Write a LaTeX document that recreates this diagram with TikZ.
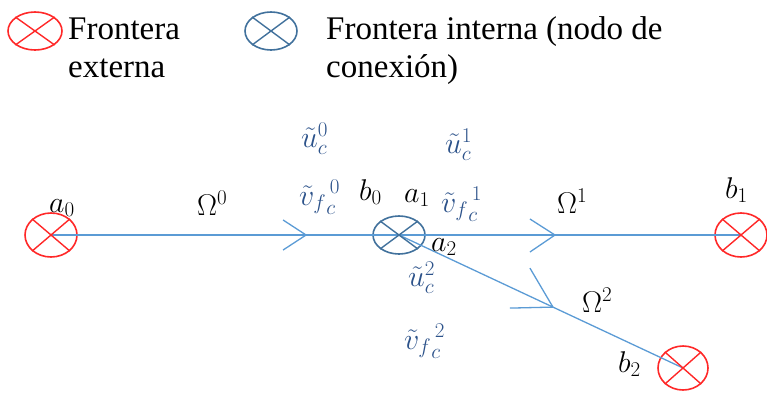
\RequirePackage{fix-cm}
\documentclass[tikz,border=0pt]{standalone}
\usepackage{fontspec}
\setmainfont{Liberation Serif}
\usetikzlibrary{calc,shapes.geometric}
\definecolor{linecol}{RGB}{91,155,213}
\definecolor{nodecol}{RGB}{65,113,156}
\definecolor{extcol}{RGB}{255,40,40}
\definecolor{lblcol}{RGB}{44,82,138}
\tikzset{
  extb/.style={ellipse,draw=extcol,line width=1.6pt,minimum width=52pt,minimum height=44pt,inner sep=0pt},
  intb/.style={ellipse,draw=nodecol,line width=1.6pt,minimum width=52pt,minimum height=38pt,inner sep=0pt},
  legtxt/.style={anchor=base west,inner sep=0pt,font=\fontsize{33}{38}\selectfont},
  mlbl/.style={anchor=base west,inner sep=0pt,font=\fontsize{30}{36}\selectfont},
  blbl/.style={mlbl,text=lblcol},
  seg/.style={draw=linecol,line width=1.3pt},
  chev/.style={draw=linecol,line width=1.3pt,line join=miter}
}
\newcommand{\vfc}[1]{\hbox{$\tilde{v}_f$}_c^{\,#1}}
\begin{document}
\begin{tikzpicture}[x=1pt,y=-1pt]
\useasboundingbox (0,0) rectangle (767,397);
% legend
\node[extb,minimum height=38pt,minimum width=54pt] (legext) at (35,31) {};
\node[intb] (legint) at (271,31) {};
\node[legtxt] (lt1a) at (68,39) {Frontera};
\node[legtxt] (lt1b) at (68,77) {externa};
\node[legtxt] (lt2a) at (326,39) {Frontera interna (nodo de};
\node[legtxt] (lt2b) at (326,77) {conexión)};
% boundary nodes
\node[extb] (a0) at (51,235) {};
\node[intb] (nd) at (399,235) {};
\node[extb] (b1) at (741,235) {};
\node[extb,minimum width=50pt] (b2) at (683,368) {};
% segments
\draw[seg] (a0.center) -- (nd.center) -- (b1.center);
\draw[seg] (nd.center) -- (b2.center);
% crosses
\foreach \n/\c in {legext/extcol,legint/nodecol,a0/extcol,nd/nodecol,b1/extcol,b2/extcol}{
  \draw[\c,line width=1.4pt] (\n.north west) -- (\n.south east) (\n.north east) -- (\n.south west);
}
% chevrons
\coordinate (t0) at ($(a0.center)!0.733!(nd.center)$);
\coordinate (t1) at ($(nd.center)!0.456!(b1.center)$);
\coordinate (t2) at ($(nd.center)!0.542!(b2.center)$);
\draw[chev] ($(t0)+(-23,-15)$) -- (t0) -- ($(t0)+(-23,15)$);
\draw[chev] ($(t1)+(-25,-16)$) -- (t1) -- ($(t1)+(-25,17)$);
\draw[chev] ($(t2)+(-23,-39)$) -- (t2) -- ($(t2)+(-43,1)$);
% black labels
\node[mlbl] (la0) at (49,212) {$a_0$};
\node[mlbl] (lO0) at (197,215) {$\Omega^0$};
\node[mlbl] (lb0) at (359,200) {$b_0$};
\node[mlbl] (la1) at (404,202) {$a_1$};
\node[mlbl] (la2) at (431,251) {$a_2$};
\node[mlbl] (lO1) at (557,213) {$\Omega^1$};
\node[mlbl] (lb1) at (725,198) {$b_1$};
\node[mlbl] (lO2) at (582,312) {$\Omega^2$};
\node[mlbl] (lb2) at (618,372) {$b_2$};
% blue labels
\node[blbl] (u0) at (301,147) {$\tilde{u}_c^0$};
\node[blbl] (u1) at (445,153) {$\tilde{u}_c^1$};
\node[blbl] (u2) at (408,286) {$\tilde{u}_c^2$};
\node[blbl] (v0) at (299,205) {$\vfc{0}$};
\node[blbl] (v1) at (441,212) {$\vfc{1}$};
\node[blbl] (v2) at (404,349) {$\vfc{2}$};
\end{tikzpicture}
\end{document}
